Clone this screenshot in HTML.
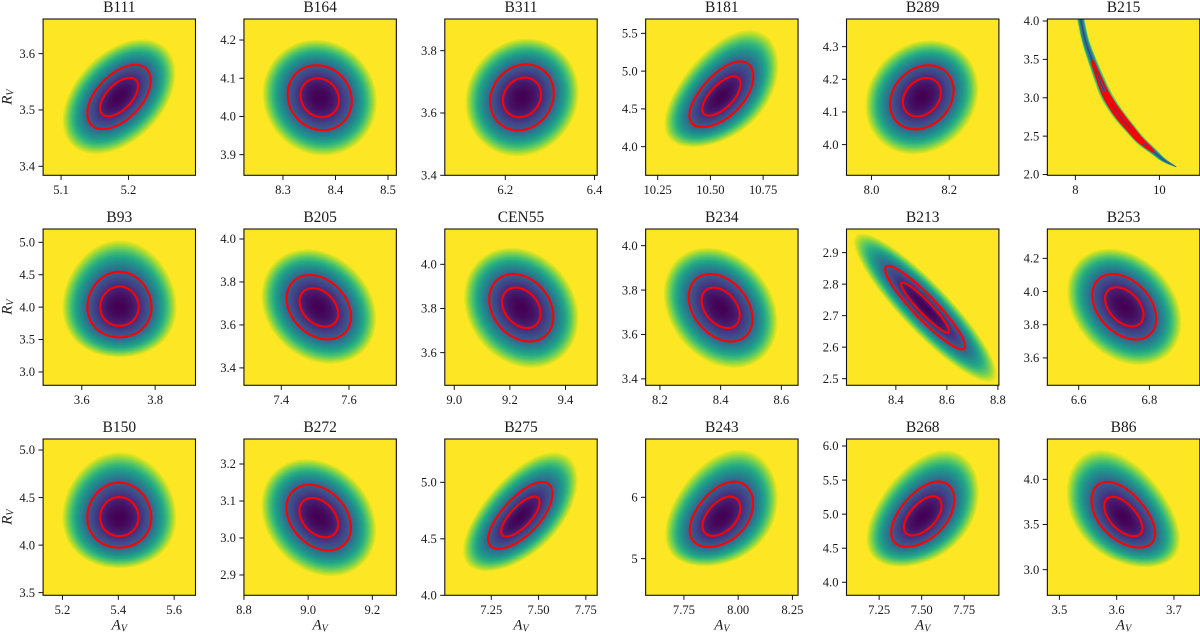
<!DOCTYPE html>
<html lang="en">
<head>
<meta charset="utf-8">
<title>Posterior maps of A_V and R_V</title>
<style>
html,body{margin:0;padding:0;background:#fff;width:1200px;height:633px;overflow:hidden}
svg{display:block;font-family:"Liberation Serif",serif;fill:#1a1a1a}
.title{font-size:15.5px;text-anchor:middle}
.tick{font-size:12.6px}
.ax{font-size:15px;font-style:italic;text-anchor:middle}
</style>
</head>
<body>
<svg id="chart" xmlns="http://www.w3.org/2000/svg" width="1200" height="633" viewBox="0 0 1200 633"></svg>
<script>
const panelNames = ['B111','B164','B311','B181','B289','B215','B93','B205','CEN55','B234','B213','B253','B150','B272','B275','B243','B268','B86'];
const xLimits = [[5.0733,5.2995],[8.2257,8.5159],[6.0644,6.406],[10.193,10.9156],[7.9356,8.3279],[7.333,10.96],[3.4945,3.91],[7.2897,7.74],[8.966,9.514],[8.153,8.655],[8.2065,8.804],[6.5113,6.9425],[5.1307,5.6764],[8.8,9.2748],[7.0044,7.81],[7.5736,8.276],[7.058,7.954],[3.479,3.745]];
const yLimits = [[3.384,3.6615],[3.846,4.255],[3.4,3.9016],[3.621,5.69],[3.906,4.3847],[1.99,4.026],[2.794,5.2057],[3.319,4.0465],[3.452,4.16],[3.371,4.075],[2.479,2.975],[3.435,4.377],[3.472,5.116],[2.845,3.2676],[4.0,5.3835],[4.402,6.951],[3.809,6.103],[2.716,4.4465]];
const xTickLabels = [['5.1','5.2'],['8.3','8.4','8.5'],['6.2','6.4'],['10.25','10.50','10.75'],['8.0','8.2'],['8','10'],['3.6','3.8'],['7.4','7.6'],['9.0','9.2','9.4'],['8.2','8.4','8.6'],['8.4','8.6','8.8'],['6.6','6.8'],['5.2','5.4','5.6'],['8.8','9.0','9.2'],['7.25','7.50','7.75'],['7.75','8.00','8.25'],['7.25','7.50','7.75'],['3.5','3.6','3.7']];
const yTickLabels = [['3.4','3.5','3.6'],['3.9','4.0','4.1','4.2'],['3.4','3.6','3.8'],['4.0','4.5','5.0','5.5'],['4.0','4.1','4.2','4.3'],['2.0','2.5','3.0','3.5','4.0'],['3.0','3.5','4.0','4.5','5.0'],['3.4','3.6','3.8','4.0'],['3.6','3.8','4.0'],['3.4','3.6','3.8','4.0'],['2.5','2.6','2.7','2.8','2.9'],['3.6','3.8','4.0','4.2'],['3.5','4.0','4.5','5.0'],['2.9','3.0','3.1','3.2'],['4.0','4.5','5.0'],['5','6'],['4.0','4.5','5.0','5.5','6.0'],['3.0','3.5','4.0']];
const peakAv = [5.186,8.37,6.2375,10.552,8.1296,null,3.7027,7.511,9.241,8.4,8.515,6.729,5.4036,9.033,7.4037,7.923,7.506,3.6116];
const peakRv = [3.5228,4.049,3.65,4.659,4.145,null,4.0,3.681,3.803,3.72,2.7254,3.908,4.291,3.055,4.692,5.674,4.961,3.5775];
const spreadAv = [0.047,0.061,0.0712,0.1514,0.0815,null,0.0873,0.0951,0.1154,0.105,0.1569,0.0906,0.1146,0.1003,0.1696,0.1457,0.1853,0.0555];
const spreadRv = [0.0571,0.085,0.1059,0.4345,0.098,null,0.506,0.1496,0.1526,0.1517,0.1323,0.1968,0.342,0.0887,0.295,0.5326,0.479,0.3635];
const correlation = [0.58,-0.12,0.15,0.66,0.25,null,0,-0.33,-0.3,-0.38,-0.94,-0.42,0,-0.35,0.74,0.47,0.57,-0.57];
const skewRv = [0.005,0,0,0.08,0,null,0.08,0.01,0,0,0,0,0.07,0,0.05,0.09,0.08,0.085];
const bananaAv = [8.10,8.13,8.23,8.39,8.55,8.71,8.88,9.06,9.30,9.54,9.86,10.10,10.40];
const bananaRv = [4.12,4.02,3.76,3.50,3.27,3.06,2.90,2.76,2.60,2.45,2.30,2.19,2.10];
const bananaSpread = [0.095,0.095,0.1,0.115,0.135,0.155,0.157,0.155,0.14,0.125,0.09,0.06,0.01];
const bananaContours = [[8.40,9.86],[8.70,9.60]];
const contourLevels = [0.6,1.0];

const viridis = ['#440154','#482475','#414487','#355f8d','#2a788e','#21918c','#22a884','#44bf70','#7ad151','#bddf26','#fde725'];
const frameW = 152.4, frameH = 156.3, edgeRadius = 1.78, colourRadius = 1.82;
const NS = 'http://www.w3.org/2000/svg';
const chart = document.getElementById('chart');

function mk(tag, parent, attrs) {
  const el = document.createElementNS(NS, tag);
  for (const k in attrs) el.setAttribute(k, attrs[k]);
  parent.appendChild(el);
  return el;
}
function hex(c) { return [1,3,5].map(i => parseInt(c.substr(i,2),16)); }
function cmap(t) {
  t = Math.max(0, Math.min(1, t));
  const p = t * (viridis.length - 1), i = Math.min(Math.floor(p), viridis.length - 2), f = p - i;
  const a = hex(viridis[i]), b = hex(viridis[i + 1]);
  return 'rgb(' + a.map((v, k) => Math.round(v + (b[k] - v) * f)).join(',') + ')';
}
// colour scale is linear in chi-square, i.e. quadratic in contour radius
function ramp(r) { return (r / colourRadius) * (r / colourRadius); }
// smooth (Catmull-Rom) reading of a table of estimated values
function smooth(xs, ys, x) {
  let i = 1;
  while (i < xs.length - 1 && x > xs[i]) i++;
  const x0 = xs[i-1], x1 = xs[i], h = x1 - x0, t = (x - x0) / h;
  const y0 = ys[i-1], y1 = ys[i];
  const m0 = i > 1 ? (y1 - ys[i-2]) / (x1 - xs[i-2]) : (y1 - y0) / h;
  const m1 = i < xs.length - 1 ? (ys[i+1] - y0) / (xs[i+1] - x0) : (y1 - y0) / h;
  const t2 = t * t, t3 = t2 * t;
  return (2*t3-3*t2+1)*y0 + (t3-2*t2+t)*h*m0 + (-2*t3+3*t2)*y1 + (t3-t2)*h*m1;
}

panelNames.forEach((name, idx) => {
  const col = idx % 6, row = Math.floor(idx / 6);
  const left = 43.1 + col * 200.85, top = 19 + row * 210;
  const xl = xLimits[idx], yl = yLimits[idx];
  const sx = v => left + (v - xl[0]) / (xl[1] - xl[0]) * frameW;
  const sy = v => top + frameH - (v - yl[0]) / (yl[1] - yl[0]) * frameH;

  const g = mk('g', chart, {});
  
  

  const clipId = 'clip' + idx;
  const cp = mk('clipPath', g, {id: clipId});
  mk('rect', cp, {x: left, y: top, width: frameW, height: frameH});

  const bg = mk('rect', g, {x: left, y: top, width: frameW, height: frameH, fill: '#fde725'});
  
  

  const heat = mk('g', g, {'clip-path': 'url(#' + clipId + ')'});
  
  

  const contours = mk('g', g, {'clip-path': 'url(#' + clipId + ')', fill: 'none', stroke: '#ff0000', 'stroke-width': 2.1, 'stroke-linejoin': 'round'});
  
  

  if (peakAv[idx] !== null) {
    const rho0 = correlation[idx];
    const outline = r => {
      // outer levels of the likelihood are rounder than the core
      const rho = rho0 * (1 - Math.max(0, r - 0.5) * 0.35 * (1 - rho0 * rho0));
      const q = Math.sqrt(1 - rho * rho);
      const pts = [];
      for (let k = 0; k < 96; k++) {
        const a = k / 96 * 2 * Math.PI;
        const u = r * Math.cos(a), v = r * (rho * Math.cos(a) + q * Math.sin(a));
        const px = sx(peakAv[idx] + spreadAv[idx] * u);
        const py = sy(peakRv[idx] + spreadRv[idx] * (v + skewRv[idx] * v * v));
        pts.push(px.toFixed(1) + ',' + py.toFixed(1));
      }
      return pts.join(' ');
    };
    const steps = 46;
    for (let s = steps; s >= 1; s--) {
      const r = edgeRadius * s / steps;
      const lvl = mk('polygon', heat, {points: outline(r), fill: cmap(ramp(r))});
      
      
    }
    contourLevels.forEach(r => {
      const c = mk('polygon', contours, {points: outline(r)});
      
      
    });
  } else {
    const band = (a0, a1, frac, taper) => {
      const n = 90, upper = [], lower = [];
      for (let k = 0; k <= n; k++) {
        const tau = k / n, a = a0 + (a1 - a0) * tau, d = 0.02;
        const cx = sx(a), cy = sy(smooth(bananaAv, bananaRv, a));
        const dx = sx(a + d) - sx(a - d), dy = sy(smooth(bananaAv, bananaRv, a + d)) - sy(smooth(bananaAv, bananaRv, a - d));
        const len = Math.hypot(dx, dy) || 1;
        let hw = (sx(smooth(bananaAv, bananaSpread, a)) - sx(0)) * frac;
        if (taper) hw *= Math.pow(Math.sin(Math.PI * tau), 0.4);
        upper.push((cx - dy / len * hw).toFixed(1) + ',' + (cy + dx / len * hw).toFixed(1));
        lower.unshift((cx + dy / len * hw).toFixed(1) + ',' + (cy - dx / len * hw).toFixed(1));
      }
      return upper.concat(lower).join(' ');
    };
    const first = bananaAv[0], last = bananaAv[bananaAv.length - 1];
    for (let s = 14; s >= 1; s--) {
      const frac = s / 14;
      // the band is under-resolved on the grid, so its core reads teal-blue rather than dark purple
      const lvl = mk('polygon', heat, {points: band(first, last, frac, false), fill: cmap(0.3 + 0.7 * frac * frac)});
      
      
    }
    const core = mk('polygon', heat, {points: band(first, last, 0.08, false), fill: '#3b3a8c'});
    
    
    bananaContours.forEach((span, j) => {
      const c = mk('polygon', contours, {points: band(span[0], span[1], j === 0 ? 0.5 : 0.24, true)});
      
      
    });
  }

  const frame = mk('rect', g, {x: left, y: top, width: frameW, height: frameH, fill: 'none', stroke: '#111', 'stroke-width': 1.1});
  
  

  const title = mk('text', g, {x: left + frameW / 2, y: top - 7, class: 'title'});
  title.textContent = name;
  
  

  xTickLabels[idx].forEach(lab => {
    const x = sx(parseFloat(lab));
    const t = mk('line', g, {x1: x, x2: x, y1: top + frameH, y2: top + frameH + 4.6, stroke: '#111', 'stroke-width': 1});
    
    
    const l = mk('text', g, {x: x, y: top + frameH + 18.7, class: 'tick', 'text-anchor': 'middle'});
    l.textContent = lab;
    
    
  });
  yTickLabels[idx].forEach(lab => {
    const y = sy(parseFloat(lab));
    const t = mk('line', g, {x1: left - 4.6, x2: left, y1: y, y2: y, stroke: '#111', 'stroke-width': 1});
    
    
    const l = mk('text', g, {x: left - 8, y: y + 4.2, class: 'tick', 'text-anchor': 'end'});
    l.textContent = lab;
    
    
  });

  if (row === 2) {
    const xt = mk('text', g, {x: left + frameW / 2, y: top + frameH + 34, class: 'ax'});
    
    
    xt.appendChild(document.createTextNode('A'));
    const sub = mk('tspan', xt, {'font-size': 10, dy: 2});
    sub.textContent = 'V';
  }
  if (col === 0) {
    const cy = top + frameH / 2;
    const yt = mk('text', g, {x: 0, y: 0, class: 'ax', transform: 'translate(11.5,' + cy + ') rotate(-90)'});
    
    
    yt.appendChild(document.createTextNode('R'));
    const sub = mk('tspan', yt, {'font-size': 10, dy: 2});
    sub.textContent = 'V';
  }
});
</script>
</body>
</html>
